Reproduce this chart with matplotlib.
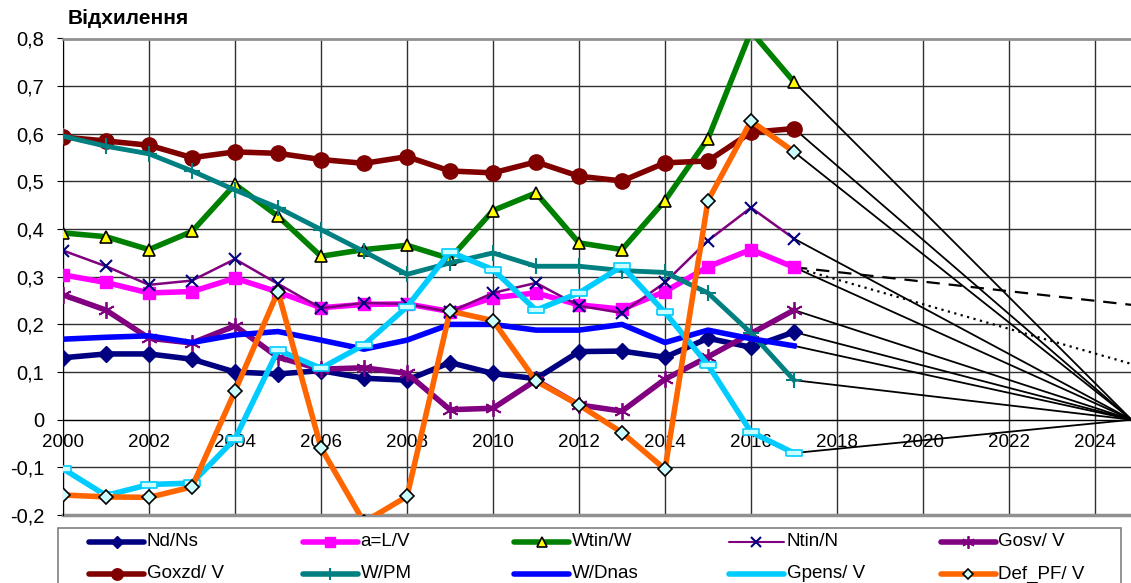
import numpy as np
from matplotlib import pyplot as plt
from matplotlib.lines import Line2D
from matplotlib.patches import Rectangle

plt.rcParams['font.family'] = ['Liberation Sans', 'DejaVu Sans']

years = list(range(2000, 2018))

nd_ns = [0.13, 0.138, 0.138, 0.127, 0.10, 0.096, 0.103, 0.087, 0.083, 0.12, 0.097, 0.086,
         0.143, 0.144, 0.131, 0.171, 0.152, 0.184]
a_lv = [0.304, 0.288, 0.266, 0.269, 0.297, 0.268, 0.235, 0.242, 0.243, 0.227, 0.256, 0.266,
        0.241, 0.232, 0.269, 0.321, 0.357, 0.32]
wtin_w = [0.392, 0.384, 0.357, 0.395, 0.494, 0.427, 0.343, 0.357, 0.366, 0.338, 0.439, 0.476,
          0.371, 0.357, 0.46, 0.59, 0.815, 0.709]
ntin_n = [0.355, 0.322, 0.283, 0.292, 0.337, 0.285, 0.234, 0.245, 0.243, 0.226, 0.266, 0.287,
          0.239, 0.224, 0.288, 0.376, 0.445, 0.38]
gosv_v = [0.262, 0.23, 0.171, 0.161, 0.197, 0.131, 0.106, 0.109, 0.097, 0.021, 0.024, 0.083,
          0.031, 0.018, 0.085, 0.132, 0.181, 0.23]
goxzd_v = [0.593, 0.585, 0.576, 0.55, 0.562, 0.559, 0.546, 0.538, 0.552, 0.522, 0.518, 0.541,
           0.511, 0.501, 0.539, 0.543, 0.603, 0.611]
w_pm = [0.595, 0.574, 0.558, 0.522, 0.482, 0.445, 0.399, 0.353, 0.305, 0.329, 0.35, 0.322,
        0.322, 0.313, 0.309, 0.266, 0.182, 0.083]
w_dnas = [0.169, 0.173, 0.176, 0.162, 0.178, 0.185, 0.167, 0.148, 0.167, 0.2, 0.2, 0.188,
          0.188, 0.2, 0.162, 0.188, 0.17, 0.155]
gpens_v = [-0.103, -0.159, -0.136, -0.133, -0.04, 0.146, 0.108, 0.157, 0.237, 0.352, 0.315, 0.23,
           0.266, 0.322, 0.225, 0.115, -0.026, -0.07]
def_pf_v = [-0.158, -0.162, -0.163, -0.141, 0.06, 0.269, -0.059, -0.215, -0.161, 0.228, 0.208, 0.081,
            0.031, -0.027, -0.104, 0.46, 0.627, 0.562]

# common target point and the two forecast lines for a=L/V
target_year = 2024.85
target_value = 0.0
forecast_years = [2017, 2024.85]
forecast_dashed = [0.32, 0.241]
forecast_dotted = [0.32, 0.117]

W, H = 1131, 583
fig = plt.figure(figsize=(W / 100, H / 100), dpi=100)
# axis runs 2000..2025, the right end slightly past the picture edge
ax = fig.add_axes([63 / W, 1 - 515 / H, (1138 - 63) / W, (515 - 38.5) / H])

lw = 4
rect = [(-1, -0.35), (1, -0.35), (1, 0.35), (-1, 0.35), (-1, -0.35)]

series = [
    (nd_ns, 'Nd/Ns', dict(color='#000080', lw=lw, marker='D', ms=8, mfc='#000080', mec='#000080')),
    (a_lv, 'a=L/V', dict(color='#FF00FF', lw=lw, marker='s', ms=9, mfc='#FF00FF', mec='#FF00FF')),
    (wtin_w, 'Wtin/W', dict(color='#008000', lw=lw, marker='^', ms=9, mfc='#FFFF00', mec='black', mew=1.2)),
    (ntin_n, 'Ntin/N', dict(color='#800080', lw=1.8, marker='x', ms=9, mec='#000080', mew=1.5)),
    (gosv_v, 'Gosv/ V', dict(color='#800080', lw=lw, marker=(6, 2, 0), ms=12, mec='#800080', mew=1.3)),
    (goxzd_v, 'Goxzd/ V', dict(color='#800000', lw=lw, marker='o', ms=11, mfc='#800000', mec='#800000')),
    (w_pm, 'W/PM', dict(color='#008080', lw=3.5, marker='+', ms=11, mec='#008080', mew=1.5)),
    (w_dnas, 'W/Dnas', dict(color='#0000FF', lw=lw)),
    (gpens_v, 'Gpens/ V', dict(color='#00CCFF', lw=lw, marker=rect, ms=11, mfc='#CCFFFF', mec='#00CCFF', mew=1.2)),
    (def_pf_v, 'Def_PF/ V', dict(color='#FF6600', lw=lw, marker='D', ms=7, mfc='#CCFFFF', mec='black', mew=1.2)),
]

for vals, label, style in series:
    ax.plot(years, vals, label=label, zorder=3, **style)
    # projection to the target point
    ax.plot([years[-1], target_year], [vals[-1], target_value], color='black', lw=1.3, zorder=2)

ax.plot(forecast_years, forecast_dashed, color='black', lw=1.6, ls=(0, (6, 4)), zorder=2)
ax.plot(forecast_years, forecast_dotted, color='black', lw=1.6, ls=(0, (1, 2)), zorder=2)

ax.set_xlim(2000, 2025)
ax.set_ylim(-0.2, 0.8)
ax.set_xticks(range(2000, 2025, 2))
yt = np.round(np.arange(-0.2, 0.81, 0.1), 1)
ax.set_yticks(yt)
ax.set_yticklabels(['0' if v == 0 else f'{v:.1f}'.replace('.', ',') for v in yt])

ax.grid(True, color='#303030', lw=1)
ax.set_axisbelow(True)

ax.spines['bottom'].set_position(('data', 0))
ax.spines['bottom'].set_color('black')
ax.spines['right'].set_visible(False)
ax.spines['top'].set_color('#909090')
ax.spines['top'].set_linewidth(2)
ax.spines['left'].set_color('black')
ax.axhline(-0.2, color='#909090', lw=2.5, zorder=1, clip_on=False)

ax.tick_params(axis='x', length=0, pad=10.5, labelsize=13.5)
ax.tick_params(axis='y', length=4.5, direction='out', pad=9, labelsize=14.5)

fig.text(68 / W, 1 - 18 / H, 'Відхилення', fontsize=15, fontweight='bold', va='center', ha='left')

# legend drawn by hand, Excel style: fixed column pitch
fig.patches.append(Rectangle((58 / W, 1 - 600 / H), (1121 - 58) / W, (600 - 527.5) / H,
                             transform=fig.transFigure, fill=False, edgecolor='#808080', lw=1.2))
col_x = [89, 302.5, 514, 729, 940.5]
row_y = [542, 574]
hlen = 55
for i, (vals, label, style) in enumerate(series):
    x0 = col_x[i % 5]
    y0 = 1 - row_y[i // 5] / H
    st = dict(style)
    if label == 'Gpens/ V':
        st.pop('marker')
    if 'ms' in st:
        st['ms'] = st['ms'] * 0.75
    st['lw'] = 4 if st['lw'] > 2 else 1.5
    fig.lines.append(Line2D([x0 / W, (x0 + hlen) / W], [y0, y0], transform=fig.transFigure,
                            solid_capstyle='round', markevery=[], **st))
    mst = {k: v for k, v in st.items() if k not in ('lw', 'color')}
    if 'marker' in mst:
        fig.lines.append(Line2D([(x0 + hlen / 2) / W], [y0], transform=fig.transFigure,
                                ls='none', color=st['color'], **mst))
    fig.text((x0 + hlen + 3) / W, y0, label, fontsize=13.5, va='center', ha='left')

fig.savefig('out.png', dpi=100)
